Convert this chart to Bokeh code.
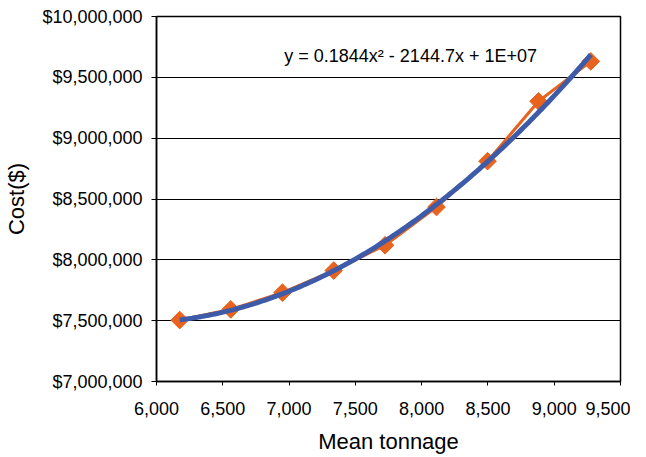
import numpy as np
from bokeh.plotting import figure
from bokeh.models import NumeralTickFormatter, FixedTicker, Range1d, Label
from bokeh.embed import file_html
from bokeh.resources import INLINE

# Data
tonnage = [6175, 6560, 6950, 7337, 7724, 8112, 8497, 8882, 9276]
cost = [7505000, 7593000, 7730000, 7912000, 8120000, 8434000, 8811000, 9303000, 9631000]
x_ticks = [6000, 6500, 7000, 7500, 8000, 8500, 9000, 9500]
y_ticks = [7000000, 7500000, 8000000, 8500000, 9000000, 9500000, 10000000]
equation = "y = 0.1844x\u00b2 - 2144.7x + 1E+07"
x_label = "Mean tonnage"
y_label = "Cost($)"

FONT = "Liberation Sans"
ORANGE = "#E8641E"
BLUE = "#3E5BA9"

p = figure(width=630, height=456,
           x_range=Range1d(6000, 9500), y_range=Range1d(7000000, 10000000),
           output_backend="svg", toolbar_location=None,
           min_border_left=156, min_border_right=10,
           min_border_top=16, min_border_bottom=75)

p.background_fill_color = "white"
p.border_fill_color = "white"
p.outline_line_color = "black"
p.outline_line_width = 1.5

p.xgrid.visible = False
p.ygrid.ticker = FixedTicker(ticks=y_ticks)
p.ygrid.grid_line_color = "black"
p.ygrid.grid_line_width = 1

for ax in (p.xaxis[0], p.yaxis[0]):
    ax.axis_line_color = "black"
    ax.axis_line_width = 1.5
    ax.major_tick_line_color = "black"
    ax.major_tick_line_width = 1
    ax.minor_tick_line_color = None
    ax.major_tick_in = 0
    ax.major_label_text_font = FONT
    ax.major_label_text_font_size = "18px"
    ax.major_label_text_color = "black"
    ax.axis_label_text_font = FONT
    ax.axis_label_text_font_size = "22px"
    ax.axis_label_text_font_style = "normal"
    ax.axis_label_text_color = "black"

p.xaxis.ticker = FixedTicker(ticks=x_ticks)
p.yaxis.ticker = FixedTicker(ticks=y_ticks)
p.xaxis.formatter = NumeralTickFormatter(format="0,0")
p.yaxis.formatter = NumeralTickFormatter(format="$0,0")
p.xaxis.major_tick_out = 4
p.yaxis.major_tick_out = 5
p.xaxis.major_label_standoff = 16
p.yaxis.major_label_standoff = 9
p.xaxis.axis_label = x_label
p.yaxis.axis_label = y_label
p.xaxis.axis_label_standoff = 11
p.yaxis.axis_label_standoff = 10

# Data series: orange line with diamonds
p.line(tonnage, cost, line_color=ORANGE, line_width=3)
p.scatter(tonnage, cost, marker="square", angle=np.pi / 4, size=12.5,
          fill_color=ORANGE, line_color=ORANGE)

# Polynomial (order 2) trendline fitted to the data
coef = np.polyfit(np.array(tonnage, dtype=float), np.array(cost, dtype=float), 2)
xs = np.linspace(min(tonnage), max(tonnage), 200)
p.line(xs, np.polyval(coef, xs), line_color=BLUE, line_width=5)

p.add_layout(Label(x=6964, y=9672000, text=equation, text_font=FONT,
                   text_font_size="18px", text_baseline="middle", text_color="black"))

open("out.html", "w").write(file_html(p, INLINE))
